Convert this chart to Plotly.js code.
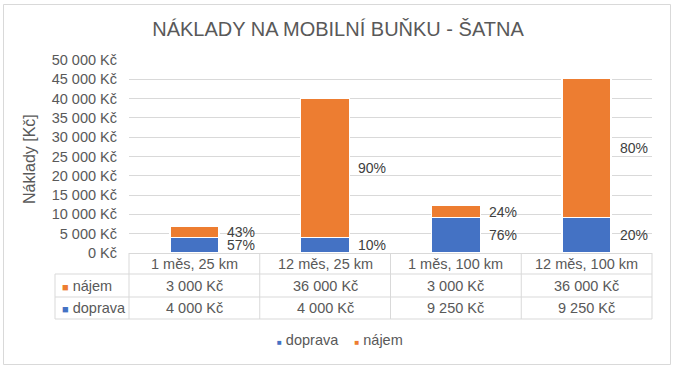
<!DOCTYPE html>
<html>
<head>
<meta charset="utf-8">
<script src="https://cdn.plot.ly/plotly-3.0.1.min.js"></script>
<style>
html,body{margin:0;padding:0;background:#fff;}
#chart{width:676px;height:370px;}
</style>
</head>
<body>
<div id="chart"></div>
<script>
// ---- data ----
var categories = ["1 měs, 25 km", "12 měs, 25 km", "1 měs, 100 km", "12 měs, 100 km"];
var doprava = [4000, 4000, 9250, 9250];
var najem = [3000, 36000, 3000, 36000];
var seriesNames = ["doprava", "nájem"];
var tableRowLabels = ["nájem", "doprava"];
var titleText = "NÁKLADY NA MOBILNÍ BUŇKU - ŠATNA";
var yTitleText = "Náklady [Kč]";

// ---- styling ----
var BLUE = "#4472C4", ORANGE = "#ED7D31";
var GRID = "#D9D9D9", TXT = "#595959", LBL = "#404040";
var FONT = "Liberation Sans, Arial, sans-serif";

var W = 676, H = 370;
var mL = 129, mR = 24, mT = 60, mB = 117;
var plotW = W - mL - mR, plotH = H - mT - mB;
function px2paperX(px){ return (px - mL) / plotW; }
function px2paperY(py){ return (H - mB - py) / plotH; }

var idx = categories.map(function(_, i){ return i; });

function fmtKc(v){
  return v.toString().replace(/\B(?=(\d{3})+(?!\d))/g, " ") + " Kč";
}

var traces = [
  {type:"bar", name:seriesNames[0], x:idx, y:doprava, marker:{color:BLUE, line:{color:"#fff", width:1.5}}, width:0.375, hoverinfo:"y"},
  {type:"bar", name:seriesNames[1], x:idx, y:najem, marker:{color:ORANGE, line:{color:"#fff", width:1.5}}, width:0.375, hoverinfo:"y"}
];

var annotations = [];
var shapes = [];

// percentage labels
idx.forEach(function(i){
  var tot = doprava[i] + najem[i];
  var pd = Math.round(doprava[i] / tot * 100);
  var pn = Math.round(najem[i] / tot * 100);
  annotations.push({xref:"x", yref:"y", x:i + 0.36, y:doprava[i] / 2, text:pd + "%", showarrow:false,
    xanchor:"center", yanchor:"middle", font:{family:FONT, size:14, color:LBL}});
  annotations.push({xref:"x", yref:"y", x:i + 0.36, y:doprava[i] + najem[i] / 2, text:pn + "%", showarrow:false,
    xanchor:"center", yanchor:"middle", font:{family:FONT, size:14, color:LBL}});
});

// data table
var rowTops = [253, 274, 297, 319];
var keyLeft = px2paperX(55);
var yr = rowTops.map(px2paperY);
for (var r = 1; r < rowTops.length; r++) {
  shapes.push({type:"line", xref:"paper", yref:"paper", x0:keyLeft, x1:1, y0:yr[r], y1:yr[r], line:{color:GRID, width:1}});
}
for (var c = 0; c <= categories.length; c++) {
  var xp = c / categories.length;
  shapes.push({type:"line", xref:"paper", yref:"paper", x0:xp, x1:xp, y0:yr[0], y1:yr[3], line:{color:GRID, width:1}});
}
shapes.push({type:"line", xref:"paper", yref:"paper", x0:keyLeft, x1:keyLeft, y0:yr[1], y1:yr[3], line:{color:GRID, width:1}});

var rowMid = [ (yr[0]+yr[1])/2, (yr[1]+yr[2])/2, (yr[2]+yr[3])/2 ];
idx.forEach(function(i){
  annotations.push({xref:"x", yref:"paper", x:i, y:rowMid[0], text:categories[i], showarrow:false,
    xanchor:"center", yanchor:"middle", font:{family:FONT, size:14.5, color:TXT}});
  annotations.push({xref:"x", yref:"paper", x:i, y:rowMid[1], text:fmtKc(najem[i]), showarrow:false,
    xanchor:"center", yanchor:"middle", font:{family:FONT, size:14.5, color:TXT}});
  annotations.push({xref:"x", yref:"paper", x:i, y:rowMid[2], text:fmtKc(doprava[i]), showarrow:false,
    xanchor:"center", yanchor:"middle", font:{family:FONT, size:14.5, color:TXT}});
});
var rowColors = [ORANGE, BLUE];
tableRowLabels.forEach(function(lab, k){
  annotations.push({xref:"paper", yref:"paper", x:px2paperX(60), y:rowMid[k+1],
    text:"<span style='color:" + rowColors[k] + ";font-size:11px'>■</span> " + lab,
    showarrow:false, xanchor:"left", yanchor:"middle", font:{family:FONT, size:14.5, color:TXT}});
});

// legend (bottom)
annotations.push({xref:"paper", yref:"paper", x:px2paperX(340), y:px2paperY(340),
  text:"<span style='color:" + BLUE + ";font-size:8px'>■</span> " + seriesNames[0] +
       "    <span style='color:" + ORANGE + ";font-size:8px'>■</span> " + seriesNames[1],
  showarrow:false, xanchor:"center", yanchor:"middle", font:{family:FONT, size:14.5, color:TXT}});

// y axis title
annotations.push({xref:"paper", yref:"paper", x:px2paperX(29), y:px2paperY(159), text:yTitleText, textangle:-90,
  showarrow:false, xanchor:"center", yanchor:"middle", font:{family:FONT, size:16, color:TXT}});

// chart border
shapes.push({type:"rect", xref:"paper", yref:"paper", x0:px2paperX(3.5), x1:px2paperX(670.5), y0:px2paperY(364.5), y1:px2paperY(4.5),
  line:{color:GRID, width:1}, fillcolor:"rgba(0,0,0,0)"});

var layout = {
  width:W, height:H,
  margin:{l:mL, r:mR, t:mT, b:mB, pad:0},
  paper_bgcolor:"#fff", plot_bgcolor:"#fff",
  barmode:"stack",
  showlegend:false,
  title:{text:titleText, x:0.5, xanchor:"center", y:1 - 28.5/H, yanchor:"middle",
    font:{family:FONT, size:20, color:TXT}},
  separators:", ",
  xaxis:{range:[-0.5, 3.5], showticklabels:false, showgrid:false, zeroline:false, showline:true, linecolor:GRID, linewidth:1, ticks:"", fixedrange:true},
  yaxis:{range:[0, 50000], dtick:5000, tick0:0, tickformat:",d", ticksuffix:" Kč", showgrid:true, gridcolor:GRID, gridwidth:1,
    zeroline:false, showline:false, ticks:"", ticklabelstandoff:11, tickfont:{family:FONT, size:14.5, color:TXT}, fixedrange:true},
  annotations:annotations,
  shapes:shapes,
  font:{family:FONT, color:TXT}
};

Plotly.newPlot("chart", traces, layout, {displayModeBar:false, staticPlot:true});
</script>
</body>
</html>
